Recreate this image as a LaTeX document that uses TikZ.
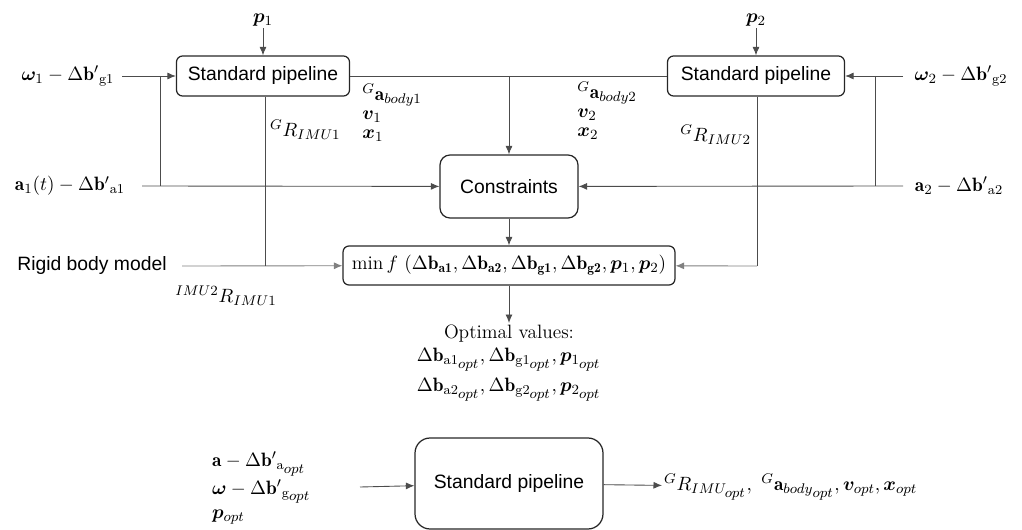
\documentclass[tikz,border=0pt]{standalone}
\usepackage{amsmath,amssymb,bm}
\usepackage{fontspec}
\setsansfont{Liberation Sans}
\usetikzlibrary{arrows.meta,calc}
\newcommand{\optsub}{{\scriptstyle opt}}

\begin{document}
\begin{tikzpicture}[
  x=0.02cm,y=-0.02cm,
  font=\fontsize{11}{13}\selectfont,
  box/.style={draw=black!85,line width=0.7pt,rounded corners=1.2mm,inner sep=0pt,align=center},
  sbox/.style={box,font=\sffamily\fontsize{11}{13}\selectfont},
  lbl/.style={inner sep=1pt},
  ln/.style={draw=black!70,line width=0.5pt},
  ar/.style={ln,-{Latex[length=1.7mm,width=1.4mm]}}
]
\useasboundingbox (0,0) rectangle (1022,530);

% ---- top row : two pipelines
\node[sbox,minimum width=34.6mm,minimum height=8mm] (sp1) at (263,76) {Standard pipeline};
\node[sbox,minimum width=35.4mm,minimum height=8mm] (sp2) at (756,76) {Standard pipeline};
\node[lbl] (p1) at (263,20) {$\bm{p}_1$};
\node[lbl] (p2) at (756,20) {$\bm{p}_2$};
\draw[ar] (p1) -- (sp1);
\draw[ar] (p2) -- (sp2);

% ---- middle : constraints + cost
\node[sbox,minimum width=27.6mm,minimum height=12.6mm,rounded corners=2mm] (con) at (509,186.5) {Constraints};
\node[box,minimum width=66.4mm,minimum height=7.8mm] (cost) at (509,265.5)
 {$\min f\ (\Delta\mathbf{b}_{\mathbf{a1}},\Delta\mathbf{b}_{\mathbf{a2}},\Delta\mathbf{b}_{\mathbf{g1}},\Delta\mathbf{b}_{\mathbf{g2}},\bm{p}_1,\bm{p}_2)$};

% ---- inputs left
\node[lbl] (w1) at (68,76) {$\bm{\omega}_1-\Delta{\mathbf{b}'}_{\mathrm{g1}}$};
\node[lbl] (a1) at (70,186) {$\mathbf{a}_1(t)-\Delta{\mathbf{b}'}_{\mathrm{a1}}$};
\node[lbl,font=\sffamily\fontsize{11}{13}\selectfont] (rig) at (92,266) {Rigid body model};
\coordinate (w1s) at (122,76);
\coordinate (a1s) at (142,186);
\coordinate (rigs) at (182,266);
\coordinate (j1) at (160,76);
\coordinate (j1b) at (160,186);
\coordinate (j2) at (265,266);
\draw[ar] (w1s) -- (sp1);
\draw[ln] (j1) -- (j1b);
\draw[ar] (a1s) -- (con);
\draw[ar,draw=black!50] (rigs) -- (cost);
\draw[ln] (sp1.south -| j2) -- (j2);
\node[lbl,anchor=west] (r1) at (268,130) {${}^{G}R_{IMU1}$};
\node[lbl] (r21) at (226,296) {${}^{IMU2}R_{IMU1}$};

% ---- inputs right
\node[lbl] (w2) at (961,76) {$\bm{\omega}_2-\Delta{\mathbf{b}'}_{\mathrm{g2}}$};
\node[lbl] (a2) at (959,186) {$\mathbf{a}_2-\Delta{\mathbf{b}'}_{\mathrm{a2}}$};
\coordinate (w2s) at (903,76);
\coordinate (a2s) at (903,186);
\coordinate (j3) at (875,76);
\coordinate (j3b) at (875,186);
\coordinate (j4) at (757,266);
\draw[ar] (w2s) -- (sp2);
\draw[ln] (j3) -- (j3b);
\draw[ar] (a2s) -- (con);
\draw[ln] (sp2.south -| j4) -- (j4);
\draw[ar,draw=black!50] (j4) -- (cost);
\node[lbl,anchor=east] (r2) at (753,135) {${}^{G}R_{IMU2}$};

% ---- pipeline outputs to constraints
\coordinate (j5) at (509,76);
\draw[ln] (sp1) -- (sp2);
\draw[ar] (j5) -- (con);
\node[inner sep=0pt,anchor=west] (ab1) at (362,95) {${}^{G}\mathbf{a}_{body1}$};
\node[inner sep=0pt,anchor=west] (v1) at (362,117) {$\bm{v}_1$};
\node[inner sep=0pt,anchor=west] (x1) at (362,136) {$\bm{x}_1$};
\node[inner sep=0pt,anchor=west] (ab2) at (577,93) {${}^{G}\mathbf{a}_{body2}$};
\node[inner sep=0pt,anchor=west] (v2) at (577,115) {$\bm{v}_2$};
\node[inner sep=0pt,anchor=west] (x2) at (577,134) {$\bm{x}_2$};
\draw[ar] (con) -- (cost);

% ---- optimal values
\node[lbl,anchor=north,align=center] (opt) at (509,323)
 {Optimal values:\\[0pt]
  $\Delta\mathbf{b}_{\mathrm{a1}_{\optsub}},\Delta\mathbf{b}_{\mathrm{g1}_{\optsub}},\bm{p}_{1_{\optsub}}$\\[4pt]
  $\Delta\mathbf{b}_{\mathrm{a2}_{\optsub}},\Delta\mathbf{b}_{\mathrm{g2}_{\optsub}},\bm{p}_{2_{\optsub}}$};
\draw[ar] (cost) -- (opt);

% ---- bottom : final pipeline
\node[sbox,minimum width=37.6mm,minimum height=18.2mm,rounded corners=3mm] (sp3) at (509,483.5) {Standard pipeline};
\node[lbl,anchor=west,align=left] (inp) at (210,488)
 {$\mathbf{a}-\Delta{\mathbf{b}'}_{\mathrm{a}_{\optsub}}$\\[1pt]
  $\bm{\omega}-\Delta{\mathbf{b}'}_{\mathrm{g}_{\optsub}}$\\[1pt]
  $\bm{p}_{opt}$};
\coordinate (inps) at (360,487);
\node[lbl,anchor=west] (out) at (662,487)
 {${}^{G}R_{IMU_{\optsub}},\ {}^{G}\mathbf{a}_{{body}_{\optsub}},\bm{v}_{opt},\bm{x}_{opt}$};
\draw[ar] (inps) -- (sp3);
\draw[ar] (sp3) -- (out);
\end{tikzpicture}
\end{document}
